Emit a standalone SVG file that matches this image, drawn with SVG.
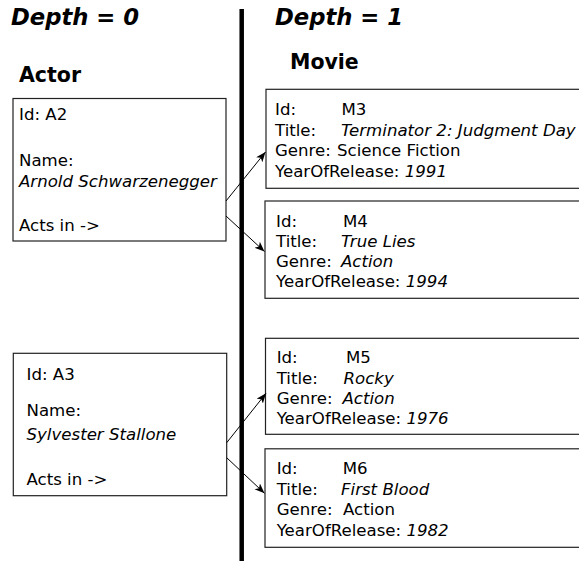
<svg xmlns="http://www.w3.org/2000/svg" width="579" height="561" viewBox="0 0 579 561">
<style>
text{font-family:"DejaVu Sans",sans-serif;font-size:16.6px;fill:#000}
.h{font-size:22.7px;font-weight:bold;font-style:italic}
.t{font-size:20.5px;font-weight:bold}
.i{font-style:italic}
.box{fill:#fff;stroke:#222;stroke-width:1.2}
.con{stroke:#000;stroke-width:1;fill:none}
</style>
<defs>
<marker id="arr" markerUnits="userSpaceOnUse" markerWidth="12" markerHeight="10" refX="10" refY="4" orient="auto">
<path d="M0,0 L10,4 L0,8 L2.5,4 z" fill="#000"/>
</marker>
</defs>
<rect width="579" height="561" fill="#fff"/>
<text class="h" x="11" y="25">Depth = 0</text>
<text class="h" x="275" y="25">Depth = 1</text>
<text class="t" x="19" y="82">Actor</text>
<text class="t" x="290" y="69">Movie</text>
<line x1="241.7" y1="9" x2="241.7" y2="561" stroke="#000" stroke-width="4.5"/>

<g id="A2">
<rect class="box" x="13" y="98.5" width="213" height="142.5"/>
<text x="19" y="119.5">Id: A2</text>
<text x="19" y="166">Name:</text>
<text class="i" x="19" y="186.5">Arnold Schwarzenegger</text>
<text x="19" y="230.5">Acts in -&gt;</text>
</g>

<g id="A3">
<rect class="box" x="13.3" y="353.3" width="213.4" height="142.4"/>
<text x="26.5" y="380">Id: A3</text>
<text x="26.5" y="416">Name:</text>
<text class="i" x="26.5" y="440">Sylvester Stallone</text>
<text x="26.5" y="485">Acts in -&gt;</text>
</g>

<g id="M3">
<rect class="box" x="266" y="89.3" width="330" height="99"/>
<text x="275" y="115">Id:</text><text x="341.5" y="115">M3</text>
<text x="275" y="135.5">Title:</text><text class="i" x="341" y="135.5">Terminator 2: Judgment Day</text>
<text x="275" y="156">Genre:</text><text x="337" y="156">Science Fiction</text>
<text x="275" y="176.5">YearOfRelease: <tspan class="i">1991</tspan></text>
</g>

<g id="M4">
<rect class="box" x="265" y="201" width="330" height="97.3"/>
<text x="276" y="226.7">Id:</text><text x="343" y="226.7">M4</text>
<text x="276" y="246.7">Title:</text><text class="i" x="341" y="246.7">True Lies</text>
<text x="276" y="266.7">Genre:</text><text class="i" x="341" y="266.7">Action</text>
<text x="276" y="286.7">YearOfRelease: <tspan class="i">1994</tspan></text>
</g>

<g id="M5">
<rect class="box" x="265.5" y="338.3" width="330" height="96"/>
<text x="276.7" y="363.3">Id:</text><text x="346" y="363.3">M5</text>
<text x="276.7" y="383.5">Title:</text><text class="i" x="343.5" y="383.5">Rocky</text>
<text x="276.7" y="404">Genre:</text><text class="i" x="342.5" y="404">Action</text>
<text x="276.7" y="424.3">YearOfRelease: <tspan class="i">1976</tspan></text>
</g>

<g id="M6">
<rect class="box" x="265" y="448.8" width="330" height="98.5"/>
<text x="276.7" y="474">Id:</text><text x="342.7" y="474">M6</text>
<text x="276.7" y="494.5">Title:</text><text class="i" x="341" y="494.5">First Blood</text>
<text x="276.7" y="515.3">Genre:</text><text x="343" y="515.3">Action</text>
<text x="276.7" y="536">YearOfRelease: <tspan class="i">1982</tspan></text>
</g>

<g id="connectors">
<line class="con" x1="226" y1="201" x2="265.5" y2="152" marker-end="url(#arr)"/>
<line class="con" x1="226" y1="216" x2="264.5" y2="251.5" marker-end="url(#arr)"/>
<line class="con" x1="226.7" y1="442.7" x2="266" y2="393.3" marker-end="url(#arr)"/>
<line class="con" x1="226.7" y1="457.7" x2="264.5" y2="493.3" marker-end="url(#arr)"/>
</g>
</svg>
